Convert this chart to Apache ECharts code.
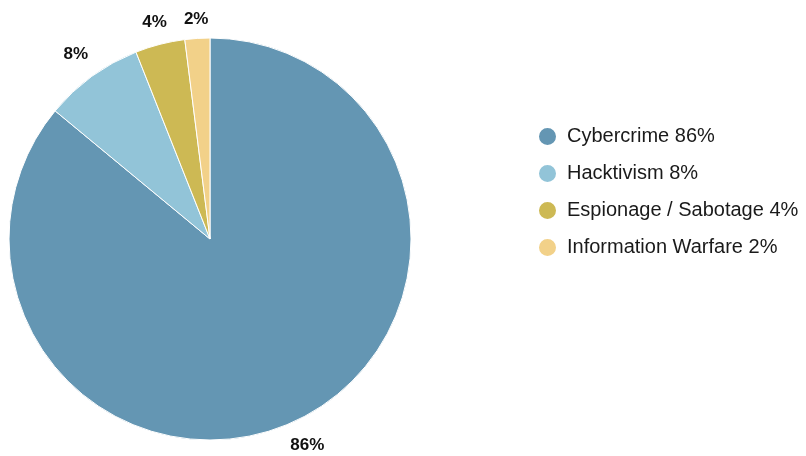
<!DOCTYPE html>
<html>
<head>
<meta charset="utf-8">
<script src="https://cdn.jsdelivr.net/npm/echarts@6/dist/echarts.min.js"></script>
<style>html,body{margin:0;padding:0;background:#fff}#c{width:806px;height:456px}</style>
</head>
<body>
<div id="c"></div>
<script>
var categories = ['Cybercrime', 'Hacktivism', 'Espionage / Sabotage', 'Information Warfare'];
var values = [86, 8, 4, 2];
var colors = ['#6496b3', '#92c4d8', '#cdb954', '#f2d189'];

var CX = 210, CY = 239, R = 201, LABEL_R = 213;

var data = categories.map(function (c, i) {
  return { name: c, value: values[i], itemStyle: { color: colors[i] } };
});

var chart = echarts.init(document.getElementById('c'), null, { renderer: 'canvas' });
chart.setOption({
  animation: false,
  backgroundColor: '#fff',
  legend: {
    orient: 'vertical',
    left: 537,
    top: 126,
    padding: 0,
    icon: 'circle',
    itemWidth: 19,
    itemHeight: 19,
    itemGap: 16,
    data: categories,
    formatter: function (name) {
      return name + ' ' + values[categories.indexOf(name)] + '%';
    },
    textStyle: { fontFamily: 'Liberation Sans, Arial', fontSize: 20, lineHeight: 19, color: '#1a1a1a', padding: [0, 0, 0, 5] }
  },
  series: [
    {
      type: 'pie',
      center: [CX, CY],
      radius: [0, R],
      startAngle: 90,
      clockwise: true,
      data: data,
      label: { show: false },
      labelLine: { show: false },
      itemStyle: { borderColor: '#fff', borderWidth: 1 },
      emphasis: { disabled: true }
    },
    {
      type: 'pie',
      center: [CX, CY],
      radius: [0, LABEL_R * 2],
      startAngle: 90,
      clockwise: true,
      silent: true,
      data: data.map(function (d) { return { name: d.name, value: d.value }; }),
      itemStyle: { color: 'rgba(0,0,0,0)' },
      legendHoverLink: false,
      label: {
        show: true,
        position: 'inside',
        formatter: '{c}%',
        fontFamily: 'Liberation Sans, Arial',
        fontWeight: 'bold',
        fontSize: 17,
        color: '#111'
      },
      labelLine: { show: false },
      labelLayout: function (p) {
        var r = p.labelRect;
        var mx = r.x + r.width / 2 - CX, my = r.y + r.height / 2 - CY;
        var len = Math.sqrt(mx * mx + my * my) || 1;
        var ux = mx / len, uy = my / len;
        var extra = 1.3 * Math.abs(ux) * r.width / 2 + 0.4 * Math.abs(uy) * r.height / 2;
        return { dx: ux * extra, dy: uy * extra };
      },
      emphasis: { disabled: true }
    }
  ]
});
</script>
</body>
</html>
